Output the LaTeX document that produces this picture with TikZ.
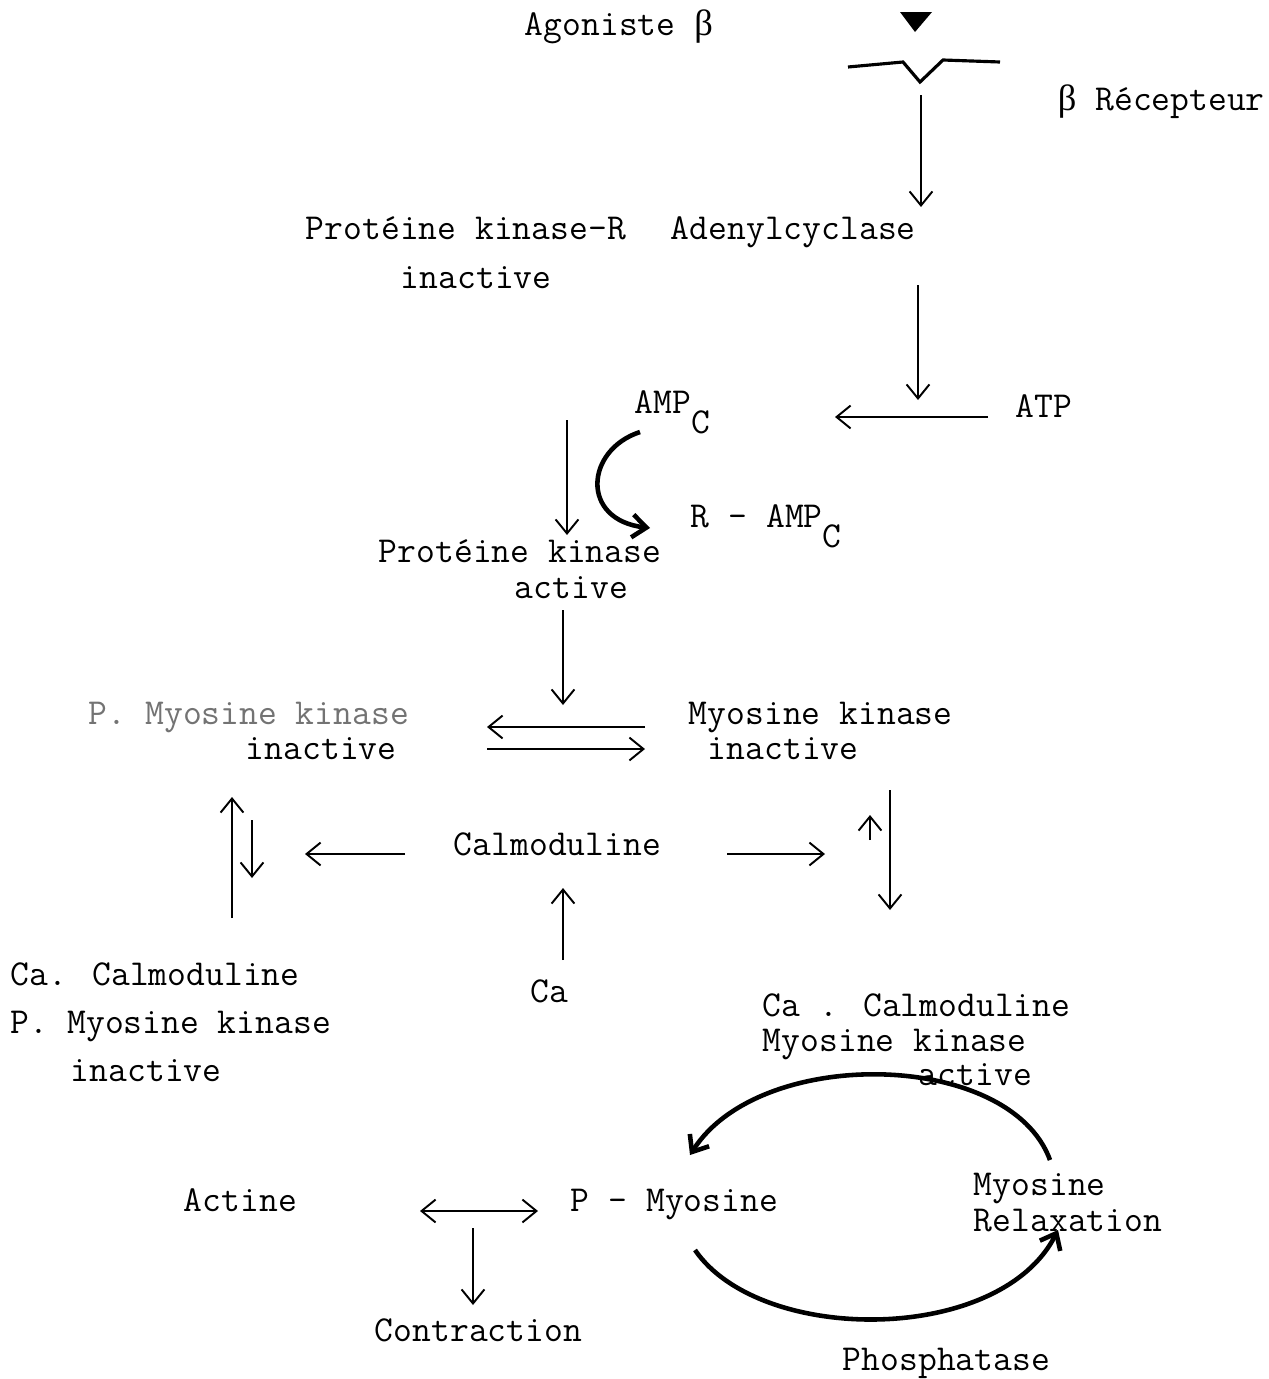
\documentclass[tikz,border=0pt]{standalone}
\usepackage{fontspec}
\newfontfamily\grk{Liberation Serif}
\usetikzlibrary{arrows.meta, positioning}

\newcommand{\subC}{\raisebox{-0.55em}{C}}
\newcommand{\bet}{{\grk β}}

\begin{document}
\begin{tikzpicture}[x=0.02cm, y=-0.02cm, >={Straight Barb[length=8pt,width=13pt]},
    line width=1.1pt,
    txt/.style={font=\ttfamily\fontsize{20.8}{27}\selectfont, inner sep=0pt, anchor=base west, yshift=-10*0.02cm},
    thick curve/.style={line width=2.6pt}]
  \useasboundingbox (0,0) rectangle (1268,1379);

  % labels
  \node[txt] (agon) at (524,25) {Agoniste \bet};
  \node[txt] (recep) at (1057,100) {\bet\ Récepteur};
  \node[txt] (pkr) at (305,229) {Protéine kinase-R};
  \node[txt] (pkrb) at (400,278) {inactive};
  \node[txt] (adc) at (670,229) {Adenylcyclase};
  \node[txt] (atp) at (1015,407) {ATP};
  \node[txt] (amp) at (634,403) {AMP\subC};
  \node[txt] (ramp) at (690,517) {R - AMP\subC};
  \node[txt] (pka) at (378,552) {Protéine kinase};
  \node[txt] (pkab) at (514,588) {active};
  \node[txt, black!55] (pmk) at (88,714) {P. Myosine kinase};
  \node[txt] (pmkb) at (245,749) {inactive};
  \node[txt] (mk) at (688,714) {Myosine kinase};
  \node[txt] (mkb) at (707,749) {inactive};
  \node[txt] (calm) at (453,845) {Calmoduline};
  \node[txt] (ca) at (530,992) {Ca};
  \node[txt] (ccpa) at (10,975) {Ca. Calmoduline};
  \node[txt] (ccpb) at (10,1023) {P. Myosine kinase};
  \node[txt] (ccpc) at (70,1071) {inactive};
  \node[txt] (ccma) at (762,1006) {Ca . Calmoduline};
  \node[txt] (ccmb) at (762,1041) {Myosine kinase};
  \node[txt] (ccmc) at (918,1075) {active};
  \node[txt] (actine) at (183,1201) {Actine};
  \node[txt] (pmyo) at (570,1201) {P - Myosine};
  \node[txt] (relaxa) at (973,1185) {Myosine};
  \node[txt] (relaxb) at (973,1221) {Relaxation};
  \node[txt] (contr) at (374,1331) {Contraction};
  \node[txt] (phos) at (842,1360) {Phosphatase};

  % ligand and membrane
  \fill (900,12) -- (932,12) -- (915,32) -- cycle;
  \draw[line width=1.8pt] (848,67) -- (903,62) -- (920,82) -- (943,60) -- (1000,62);

  % arrow ends
  \coordinate (r1) at (921,95);   \coordinate (r2) at (921,207);
  \coordinate (a1) at (918,285);  \coordinate (a2) at (918,400);
  \coordinate (t1) at (988,417);  \coordinate (t2) at (835,417);
  \coordinate (k1) at (567,420);  \coordinate (k2) at (567,535);
  \coordinate (m1) at (640,432);  \coordinate (m2) at (650,528);
  \coordinate (p1) at (563,610);  \coordinate (p2) at (563,705);
  \coordinate (e1) at (645,727);  \coordinate (e2) at (487,727);
  \coordinate (e3) at (487,749);  \coordinate (e4) at (645,749);
  \coordinate (l1) at (405,854);  \coordinate (l2) at (305,854);
  \coordinate (l3) at (232,918);  \coordinate (l4) at (232,797);
  \coordinate (l5) at (252,820);  \coordinate (l6) at (252,878);
  \coordinate (g1) at (727,854);  \coordinate (g2) at (825,854);
  \coordinate (g3) at (870,840);  \coordinate (g4) at (870,815);
  \coordinate (g5) at (890,790);  \coordinate (g6) at (890,910);
  \coordinate (c1) at (563,960);  \coordinate (c2) at (563,888);
  \coordinate (u1) at (1050,1160); \coordinate (u2) at (690,1155);
  \coordinate (d1) at (695,1250); \coordinate (d2) at (1058,1230);
  \coordinate (x1) at (420,1211); \coordinate (x2) at (538,1211);
  \coordinate (y1) at (473,1228); \coordinate (y2) at (473,1305);

  \path[->] (r1) edge (r2)
        (a1) edge (a2)
        (t1) edge (t2)
        (k1) edge (k2)
        (p1) edge (p2)
        (e1) edge (e2)
        (e3) edge (e4)
        (l1) edge (l2)
        (l3) edge (l4)
        (l5) edge (l6)
        (g1) edge (g2)
        (g3) edge (g4)
        (g5) edge (g6)
        (c1) edge (c2)
        (y1) edge (y2)
        (x1) edge[<->] (x2);

  \draw[->, thick curve] (m1) .. controls (585,450) and (580,520) .. (m2);
  \draw[->, thick curve] (u1) .. controls (1010,1050) and (760,1045) .. (u2);
  \draw[->, thick curve] (d1) .. controls (760,1345) and (1000,1345) .. (d2);
\end{tikzpicture}
\end{document}
